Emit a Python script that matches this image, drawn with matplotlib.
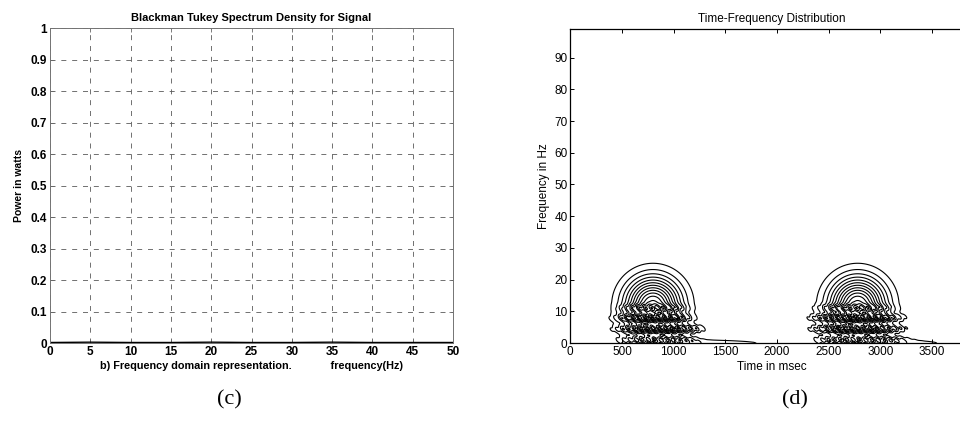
import numpy as np
import matplotlib
matplotlib.use("Agg")
import matplotlib.pyplot as plt

plt.rcParams['font.family'] = ['Liberation Sans', 'DejaVu Sans']

# (c) Blackman Tukey spectrum - the power stays at about zero
freq_hz = [0, 5, 10, 15, 20, 25, 30, 35, 40, 45, 50]
power_w = [0.002, 0.003, 0.002, 0.002, 0.003, 0.002, 0.002, 0.003, 0.002, 0.002, 0.002]
c_xticks = [0, 5, 10, 15, 20, 25, 30, 35, 40, 45, 50]
c_yticks = [0, 0.1, 0.2, 0.3, 0.4, 0.5, 0.6, 0.7, 0.8, 0.9, 1]

# (d) time-frequency distribution: two bursts
burst_center_ms = [800, 2780]
burst_arch_top_hz = [26.5, 26.5]
burst_half_width_ms = [440, 440]
band_freqs_hz = [1.0, 4.5, 8.0, 11.0]
band_weights = [0.25, 0.35, 0.35, 0.2]
band_left_ms = [[380, 350, 360, 400], [2250, 2240, 2240, 2300]]
band_right_ms = [[1300, 1380, 1250, 1200], [3350, 3320, 3300, 3200]]
tail_end_ms = [2000, 3700]
d_xticks = [0, 500, 1000, 1500, 2000, 2500, 3000, 3500]
d_yticks = [0, 10, 20, 30, 40, 50, 60, 70, 80, 90]

fig = plt.figure(figsize=(9.6, 4.21), dpi=100)

# ---- left panel
ax1 = fig.add_axes([0.052, 0.185, 0.42, 0.748])
ax1.plot(freq_hz, power_w, color='k', lw=1.0)
ax1.set_xlim(0, 50)
ax1.set_ylim(0, 1)
ax1.set_xticks(c_xticks)
ax1.set_yticks(c_yticks)
ax1.set_yticklabels(['0', '0.1', '0.2', '0.3', '0.4', '0.5', '0.6', '0.7', '0.8', '0.9', '1'])
ax1.grid(True, color='0.35', lw=0.6, linestyle=(0, (6, 7)))
for s in ax1.spines.values():
    s.set_color('0.45')
    s.set_linewidth(0.7)
ax1.tick_params(direction='in', length=3, width=0.6, color='0.4', labelsize=8.5, pad=2, top=True, right=True)
for lab in ax1.get_xticklabels() + ax1.get_yticklabels():
    lab.set_fontweight('bold')
ax1.set_title('Blackman Tukey Spectrum Density for Signal', fontsize=8, fontweight='bold', pad=5)
ax1.set_ylabel('Power in watts', fontsize=7.5, fontweight='bold', labelpad=5)
ax1.set_xlabel('b) Frequency domain representation.             frequency(Hz)',
               fontsize=7.8, fontweight='bold', labelpad=2)
fig.text(0.239, 0.05, '(c)', family='Liberation Serif', fontsize=16, ha='center', va='center')

# ---- right panel
ax2 = fig.add_axes([0.594, 0.185, 0.42, 0.746])
t = np.linspace(0, 3900, 781)
f = np.linspace(0, 99, 397)
T, F = np.meshgrid(t, f)
Z = np.zeros_like(T)
for k, tc in enumerate(burst_center_ms):
    sy = (burst_arch_top_hz[k] - 12) / 1.75
    sx = burst_half_width_ms[k] / 1.75
    arch = np.exp(-((T - tc) / sx) ** 2 - ((F - 12) / sy) ** 2)
    bands = np.zeros_like(T)
    for j, fb in enumerate(band_freqs_hz):
        lo, hi = band_left_ms[k][j], band_right_ms[k][j]
        mid = (lo + hi) / 2
        half = (hi - lo) / 2 / 1.3
        wob = 1 + 0.25 * np.cos(2 * np.pi * T / 60 + 2.2 * F)
        bands += band_weights[j] * np.exp(-((F - fb) / 1.2) ** 2) * np.exp(-((T - mid) / half) ** 4) * wob
    tail = 0.16 * np.exp(-(F / 1.4) ** 2) * (T > tc) * (T < tail_end_ms[k]) \
        * np.exp(-((T - tc) / (tail_end_ms[k] - tc)) ** 2)
    Z = np.maximum(Z, arch + bands + tail)
levels = np.linspace(0.08, 1.3, 16)
ax2.contour(T, F, Z, levels=levels, colors='k', linewidths=0.8)
ax2.set_xlim(0, 3900)
ax2.set_ylim(0, 99)
ax2.set_xticks(d_xticks)
ax2.set_yticks(d_yticks)
ax2.tick_params(direction='in', length=3, width=0.7, labelsize=8.5, pad=2, top=True, right=True)
for lab in ax2.get_xticklabels() + ax2.get_yticklabels():
    lab.set_family(['Liberation Sans Narrow', 'Liberation Sans'])
for s in ax2.spines.values():
    s.set_linewidth(0.9)
ax2.set_title('Time-Frequency Distribution', fontsize=8.5, pad=5)
ax2.set_ylabel('Frequency in Hz', fontsize=8.5, labelpad=3)
ax2.set_xlabel('Time in msec', fontsize=8.5, labelpad=2)
fig.text(0.828, 0.05, '(d)', family='Liberation Serif', fontsize=16, ha='center', va='center')

fig.savefig('out.png', dpi=100)
